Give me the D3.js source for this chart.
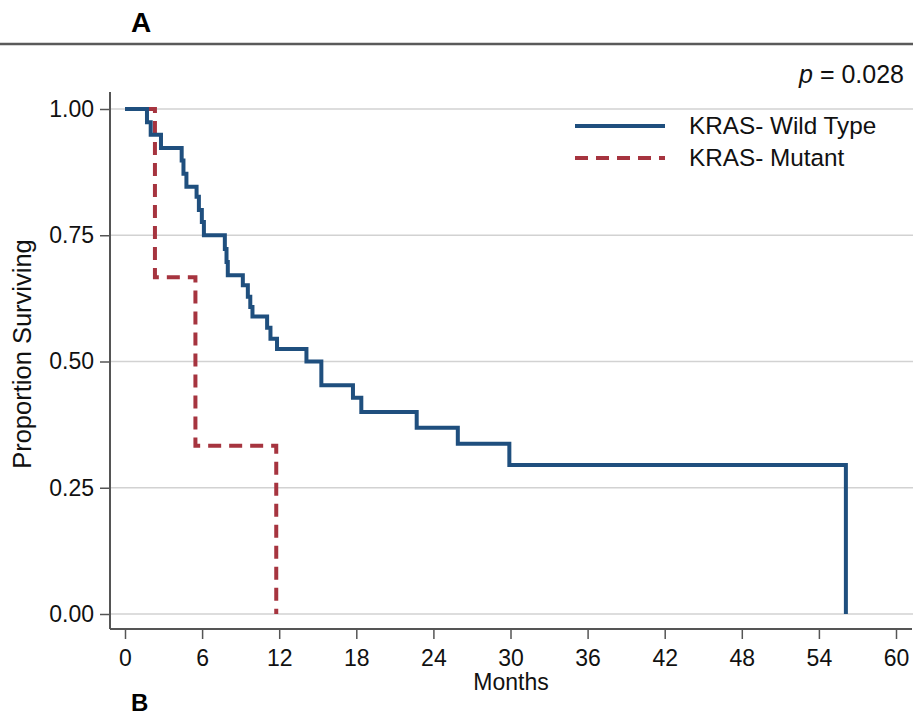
<!DOCTYPE html>
<html>
<head>
<meta charset="utf-8">
<script src="https://cdn.jsdelivr.net/npm/d3@7"></script>
<style>
  body { margin: 0; background: #fff; }
  svg { display: block; font-family: "Liberation Sans", Arial, sans-serif; }
</style>
</head>
<body>
<div id="chart"></div>
<script>
// Kaplan-Meier steps (months, proportion surviving)
const wildTimes = [0, 1.71, 2.0, 2.8, 4.41, 4.55, 4.78, 5.57, 5.75, 5.98, 6.14, 7.77, 7.9, 8.0,
                   9.17, 9.56, 9.75, 9.92, 11.06, 11.32, 11.83, 14.12, 15.28, 17.74, 18.39,
                   22.7, 25.9, 29.91, 56.1];
const wildSurv  = [1.0, 0.974, 0.949, 0.923, 0.898, 0.872, 0.846, 0.826, 0.80, 0.776, 0.75, 0.723, 0.697, 0.671,
                   0.651, 0.628, 0.608, 0.589, 0.567, 0.545, 0.525, 0.50, 0.453, 0.428, 0.40,
                   0.369, 0.337, 0.295, 0];
const mutTimes = [0, 2.33, 5.48, 11.77];
const mutSurv  = [1.0, 0.667, 0.333, 0];

const xTicks = [0, 6, 12, 18, 24, 30, 36, 42, 48, 54, 60];
const yTicks = [0, 0.25, 0.5, 0.75, 1];
const seriesNames = ["KRAS- Wild Type", "KRAS- Mutant"];
const pLabel = "0.028";

const W = 913, H = 717;
const blue = "#1f4f7e", red = "#a6343f";
const axisCol = "#555", gridCol = "#d2d2d2";
const fs = 23;

const svg = d3.select("#chart").append("svg")
    .attr("width", W).attr("height", H);

const x = d3.scaleLinear().domain([0, 60]).range([125, 896]);
const y = d3.scaleLinear().domain([0, 1]).range([614, 109]);
const axisX = 110, axisY = 629;

// panel letters and the rule under "A"
svg.append("text").attr("x", 131).attr("y", 32)
    .attr("font-size", 28).attr("font-weight", "bold").text("A");
svg.append("line").attr("x1", 0).attr("x2", W).attr("y1", 44).attr("y2", 44)
    .attr("stroke", "#5a5a5a").attr("stroke-width", 2.5);
svg.append("text").attr("x", 131).attr("y", 711)
    .attr("font-size", 24).attr("font-weight", "bold").text("B");

// gridlines
svg.append("g").selectAll("line").data(yTicks).join("line")
    .attr("x1", axisX).attr("x2", W)
    .attr("y1", d => y(d)).attr("y2", d => y(d))
    .attr("stroke", gridCol).attr("stroke-width", 1.5);

// y axis
const yAxisG = svg.append("g").attr("transform", "translate(" + axisX + ",0)")
    .call(d3.axisLeft(y).tickValues(yTicks).tickFormat(d3.format(".2f"))
        .tickSize(10).tickSizeOuter(0).tickPadding(6));
yAxisG.select(".domain").remove();
yAxisG.selectAll(".tick line").attr("stroke", axisCol).attr("stroke-width", 1.5);
yAxisG.selectAll(".tick text").attr("font-size", fs).attr("fill", "#111")
    .attr("font-family", "Liberation Sans, Arial, sans-serif");

// x axis
const xAxisG = svg.append("g").attr("transform", "translate(0," + axisY + ")")
    .call(d3.axisBottom(x).tickValues(xTicks).tickSize(10).tickSizeOuter(0).tickPadding(11));
xAxisG.select(".domain").remove();
xAxisG.selectAll(".tick line").attr("stroke", axisCol).attr("stroke-width", 1.5);
xAxisG.selectAll(".tick text").attr("font-size", fs).attr("fill", "#111")
    .attr("font-family", "Liberation Sans, Arial, sans-serif");

// axis lines
svg.append("line").attr("x1", axisX).attr("x2", axisX).attr("y1", 92).attr("y2", axisY)
    .attr("stroke", axisCol).attr("stroke-width", 2);
svg.append("line").attr("x1", axisX).attr("x2", 912).attr("y1", axisY).attr("y2", axisY)
    .attr("stroke", axisCol).attr("stroke-width", 2);

// axis titles
svg.append("text").attr("x", 511).attr("y", 690).attr("text-anchor", "middle")
    .attr("font-size", fs).attr("fill", "#111").text("Months");
svg.append("text").attr("transform", "translate(31,354) rotate(-90)")
    .attr("text-anchor", "middle").attr("font-size", 25.5).attr("fill", "#111")
    .text("Proportion Surviving");

// p value
const pT = svg.append("text").attr("x", 904).attr("y", 83).attr("text-anchor", "end")
    .attr("font-size", 25).attr("fill", "#111");
pT.append("tspan").attr("font-style", "italic").text("p");
pT.append("tspan").text(" = " + pLabel);

// curves
const line = d3.line().curve(d3.curveStepAfter)
    .x(d => x(d[0])).y(d => y(d[1]));
const wild = wildTimes.map((t, i) => [t, wildSurv[i]]);
const mut = mutTimes.map((t, i) => [t, mutSurv[i]]);

svg.append("path").datum(mut).attr("d", line)
    .attr("fill", "none").attr("stroke", red).attr("stroke-width", 4)
    .attr("stroke-dasharray", "13,8");
svg.append("path").datum(wild).attr("d", line)
    .attr("fill", "none").attr("stroke", blue).attr("stroke-width", 4)
    .attr("stroke-linejoin", "miter");

// legend
const legend = svg.append("g");
[[blue, null, 126], [red, "13,8", 158]].forEach((s, i) => {
    legend.append("line").attr("x1", 575).attr("x2", 665).attr("y1", s[2]).attr("y2", s[2])
        .attr("stroke", s[0]).attr("stroke-width", 4)
        .attr("stroke-dasharray", s[1]);
    legend.append("text").attr("x", 689).attr("y", s[2] + 8)
        .attr("font-size", 24.3).attr("fill", "#111").text(seriesNames[i]);
});
</script>
</body>
</html>
